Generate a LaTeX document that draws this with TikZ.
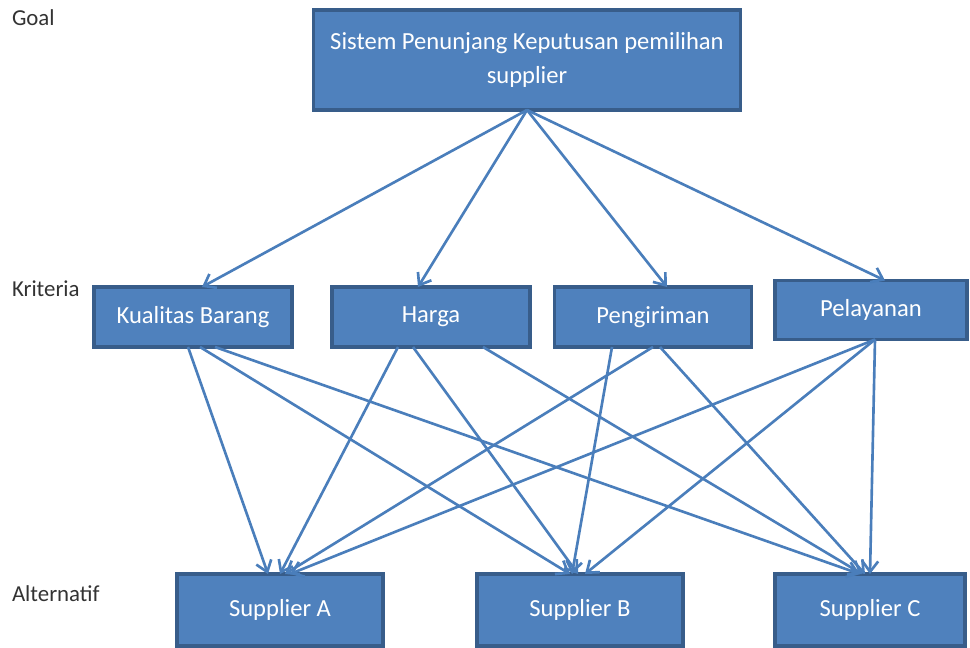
\documentclass[tikz,border=0pt]{standalone}
\usepackage{fontspec}
\setmainfont{Carlito}
\usetikzlibrary{arrows.meta,calc}
\definecolor{boxfill}{HTML}{4F81BD}
\definecolor{boxline}{HTML}{385D8A}
\definecolor{arrline}{HTML}{4A7EBB}
\begin{document}
\begin{tikzpicture}[x=0.02cm,y=-0.02cm,inner sep=0pt,outer sep=0pt,
levelbox/.style={draw=boxline,fill=boxfill,rectangle,line width=2pt,text=white,font=\fontsize{14}{19}\selectfont,align=center},
levellabel/.style={anchor=west,text=black!80,font=\fontsize{13}{15}\selectfont},
link/.style={draw=arrline,line width=1.5pt,-{Straight Barb[length=6pt,width=9pt,line width=1.5pt]}}]
\useasboundingbox (0,0) rectangle (970,648);
\draw (12,18) node[levellabel] (lgoal) {Goal};
\draw (12,289) node[levellabel] (lkrit) {Kriteria};
\draw (12,594) node[levellabel] (lalt) {Alternatif};
\draw (527,60) node[levelbox,minimum width=8.54cm,minimum height=2cm] (goal) {Sistem Penunjang Keputusan pemilihan\\supplier};
\draw (193,317) node[levelbox,minimum width=3.96cm,minimum height=1.2cm] (kb) {Kualitas Barang};
\draw (431,317) node[levelbox,minimum width=3.96cm,minimum height=1.2cm] (hg) {Harga};
\draw (653,317) node[levelbox,minimum width=3.94cm,minimum height=1.2cm] (pg) {Pengiriman};
\draw (871,310) node[levelbox,minimum width=3.84cm,minimum height=1.18cm] (pl) {Pelayanan};
\draw (280,610) node[levelbox,minimum width=4.12cm,minimum height=1.44cm] (sa) {Supplier A};
\draw (580,610) node[levelbox,minimum width=4.12cm,minimum height=1.44cm] (sb) {Supplier B};
\draw (870,610) node[levelbox,minimum width=3.8cm,minimum height=1.44cm] (sc) {Supplier C};
\draw[link] (goal.south) -- ($(kb.north)+(9,0)$);
\draw[link] (goal.south) -- ($(hg.north)+(-13,0)$);
\draw[link] (goal.south) -- ($(pg.north)+(14,0)$);
\draw[link] (goal.south) -- ($(pl.north)+(14,0)$);
\draw[link] ($(kb.south)+(-5,0)$) -- ($(sa.north)+(-12,0)$);
\draw[link] ($(kb.south)+(7,0)$) -- ($(sb.north)+(-10,0)$);
\draw[link] ($(kb.south)+(22,0)$) -- ($(sc.north)+(-10,0)$);
\draw[link] ($(hg.south)+(-33,0)$) -- (sa.north);
\draw[link] ($(hg.south)+(-18,0)$) -- ($(sb.north)+(-2,0)$);
\draw[link] ($(hg.south)+(52,0)$) -- ($(sc.north)+(-8,0)$);
\draw[link] (pg.south) -- ($(sa.north)+(5,0)$);
\draw[link] ($(pg.south)+(-41,0)$) -- ($(sb.north)+(-8,0)$);
\draw[link] ($(pg.south)+(7,0)$) -- ($(sc.north)+(-5,0)$);
\draw[link] ($(pl.south)+(4,0)$) -- ($(sa.north)+(10,0)$);
\draw[link] ($(pl.south)+(4,0)$) -- ($(sb.north)+(5,0)$);
\draw[link] ($(pl.south)+(4,0)$) -- (sc.north);
\end{tikzpicture}
\end{document}
